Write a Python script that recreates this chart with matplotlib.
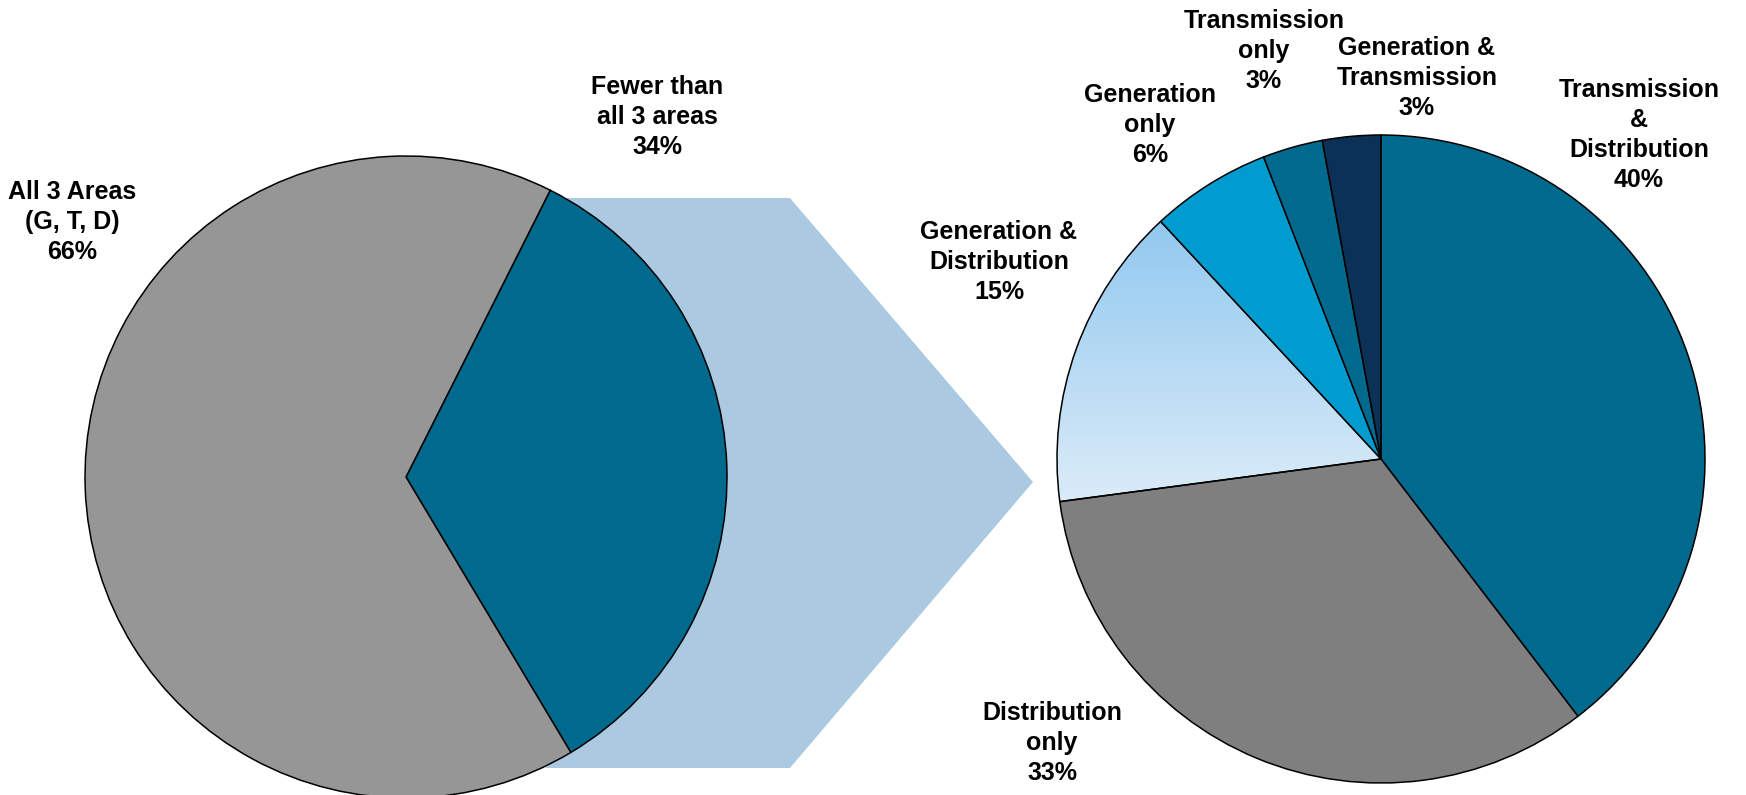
import numpy as np
import matplotlib
matplotlib.use("Agg")
import matplotlib.pyplot as plt
from matplotlib.patches import Polygon

W, H = 1746, 795

# ---- data ----
left_labels = ["Fewer than\nall 3 areas\n34%", "All 3 Areas\n(G, T, D)\n66%"]
left_values = [34, 66]
left_colors = ["#006a8e", "#969696"]

right_labels = ["Transmission\n&\nDistribution\n40%", "Distribution\nonly\n33%",
                "Generation &\nDistribution\n15%", "Generation\nonly\n6%",
                "Transmission\nonly\n3%", "Generation &\nTransmission\n3%"]
right_values = [39.6, 33.3, 15.2, 6.0, 3.0, 2.9]
right_colors = ["#006a8e", "#7f7f7f", "#b5d8f2", "#009bcf", "#006a8e", "#0b3256"]

fig = plt.figure(figsize=(W / 100, H / 100), dpi=100)
ax = fig.add_axes([0, 0, 1, 1])

def Y(yp):
    return H - yp

fam = ["Liberation Sans", "DejaVu Sans"]

# arrow shape behind
arrow = Polygon([(546, Y(198)), (790, Y(198)), (1033, Y(482)), (790, Y(768)), (546, Y(768))],
                closed=True, facecolor="#abcae2", edgecolor="none", zorder=0)
ax.add_patch(arrow)

# left pie
lw, _ = ax.pie(left_values, colors=left_colors, startangle=63.3, counterclock=False,
               center=(406, Y(477)), radius=321,
               wedgeprops=dict(edgecolor="black", linewidth=1.1), frame=True)
for w in lw:
    w.set_zorder(2)

# right pie
rcx, rcy, rr = 1381, Y(459), 324
rw, _ = ax.pie(right_values, colors=right_colors, startangle=90, counterclock=False,
               center=(rcx, rcy), radius=rr,
               wedgeprops=dict(edgecolor="black", linewidth=1.1), frame=True)
for w in rw:
    w.set_zorder(2)

# gradient on Generation & Distribution wedge
gw = rw[2]
gw.set_facecolor("none")
c_top = np.array(matplotlib.colors.to_rgb("#8ec7ef"))
c_bot = np.array(matplotlib.colors.to_rgb("#e0eef9"))
t = np.linspace(0, 1, 256)[:, None]
grad = (c_top * (1 - t) + c_bot * t)[:, None, :] * np.ones((1, 2, 1))
im = ax.imshow(grad, extent=(rcx - rr, rcx, rcy - 60, rcy + 250), origin="upper",
               aspect="auto", zorder=1.5)
im.set_clip_path(gw)

ax.set_xlim(0, W)
ax.set_ylim(0, H)
ax.set_aspect("equal")
ax.axis("off")

fs = 18
tk = dict(ha="center", va="center", fontsize=fs, fontweight="bold", linespacing=1.32,
          zorder=5, family=fam)

ax.text(657, Y(117), left_labels[0], **tk)
ax.text(72, Y(222), left_labels[1], **tk)

ax.text(1639, Y(135), right_labels[0], **tk)
ax.text(1052, Y(743), right_labels[1], **tk)
ax.text(999, Y(262), right_labels[2], **tk)
ax.text(1150, Y(125), right_labels[3], **tk)
ax.text(1264, Y(51), right_labels[4], **tk)
ax.text(1417, Y(78), right_labels[5], **tk)

fig.savefig("out.png", dpi=100)
